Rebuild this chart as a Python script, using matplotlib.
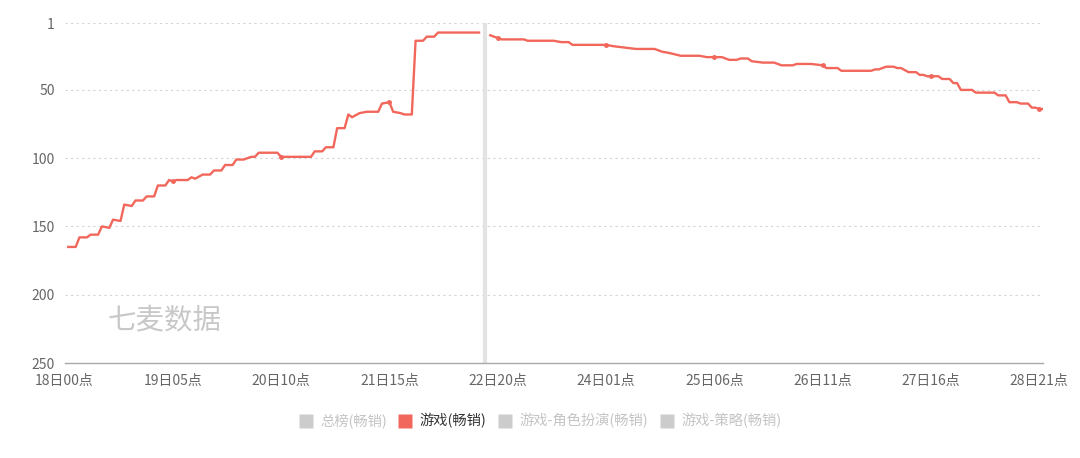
import matplotlib
matplotlib.use("Agg")
from matplotlib import pyplot as plt
from matplotlib.lines import Line2D
import numpy as np

plt.rcParams['font.family'] = ['Noto Sans CJK SC', 'DejaVu Sans']

# hours counted from 18日00点, rank values
hours_before = [1, 3, 4, 6, 7, 9, 10, 12, 13, 15, 16, 18, 19, 21, 22, 24, 25, 27,
                28, 29, 30, 33, 34, 35, 37, 39, 40, 42, 43, 45, 46, 48, 50, 51,
                52, 57, 58, 66, 67, 69, 70, 72, 73, 75, 76, 77, 79, 81, 84, 85,
                87, 88, 90, 91, 93, 94, 96, 97, 99, 100, 111]
rank_before = [165, 165, 158, 158, 156, 156, 150, 151, 145, 146, 134, 135, 131, 131,
               128, 128, 120, 120, 116, 117, 116, 116, 114, 115, 112, 112, 109, 109,
               105, 105, 101, 101, 99, 99, 96, 96, 99, 99, 95, 95, 92, 92, 78, 78,
               68, 70, 67, 66, 66, 60, 59, 66, 67, 68, 68, 14, 14, 11, 11, 8, 8]

hours_after = [114, 116, 117, 123, 124, 131, 133, 135, 136, 145, 147, 150, 153, 158,
               160, 162, 165, 170, 172, 174, 176, 178, 180, 181, 183, 184, 187, 190,
               192, 195, 196, 200, 203, 204, 207, 208, 210, 216, 217, 218, 220, 222,
               223, 224, 226, 228, 229, 230, 231, 232, 234, 235, 237, 238, 239, 240,
               243, 244, 249, 250, 252, 253, 255, 256, 258, 259, 260, 261, 262]
rank_after = [10, 12, 13, 13, 14, 14, 15, 15, 17, 17, 18, 19, 20, 20, 22, 23, 25, 25,
              26, 26, 26, 28, 28, 27, 27, 29, 30, 30, 32, 32, 31, 31, 32, 34, 34, 36,
              36, 36, 35, 35, 33, 33, 34, 34, 37, 37, 39, 39, 40, 40, 40, 42, 42, 45,
              45, 50, 50, 52, 52, 54, 54, 59, 59, 60, 60, 63, 63, 64, 64]

marker_hour = 112
tick_hours = [0, 29, 58, 87, 116, 145, 174, 203, 232, 261]
tick_labels = ['18日00点', '19日05点', '20日10点', '21日15点', '22日20点',
               '24日01点', '25日06点', '26日11点', '27日16点', '28日21点']
y_ticks = [1, 50, 100, 150, 200, 250]
legend_names = ['总榜(畅销)', '游戏(畅销)', '游戏-角色扮演(畅销)', '游戏-策略(畅销)']
legend_active = [False, True, False, False]

red = '#f2675c'
grey_text = '#666666'

fig = plt.figure(figsize=(10.8, 4.58), dpi=100)
ax = fig.add_axes([64.5 / 1080, 1 - 363 / 458, (1043 - 64.5) / 1080, 340 / 458])

ax.axvline(marker_hour + 0.5, color='#e3e3e3', lw=3, zorder=1)

for hs, rs in [(hours_before, rank_before), (hours_after, rank_after)]:
    hs = np.array(hs)
    idx = [i for i, h in enumerate(hs) if h % 29 == 0]
    ax.plot(hs, rs, color=red, lw=1.7, zorder=3,
            marker='o', markersize=2.5, markevery=idx, solid_joinstyle='round')

ax.set_xlim(0, 262)
ax.set_ylim(250, 1)
ax.set_yticks(y_ticks)
ax.set_yticklabels([str(v) for v in y_ticks])
ax.set_xticks(tick_hours)
ax.set_xticklabels(tick_labels)
ax.tick_params(axis='both', length=0, colors=grey_text, labelsize=10)
ax.tick_params(axis='y', pad=7)
ax.tick_params(axis='x', pad=8)

for v in y_ticks[:-1]:
    ax.axhline(v, color='#d4d4d4', lw=0.8, ls=(0, (2, 3)), zorder=0)

for s in ['top', 'right', 'left']:
    ax.spines[s].set_visible(False)
ax.spines['bottom'].set_color('#a8a8a8')
ax.spines['bottom'].set_linewidth(1)

ax.text(0.044, 0.126, '七麦数据', transform=ax.transAxes, fontsize=20.5,
        color='#c8c8c8', ha='left', va='center')

handles = []
for name, on in zip(legend_names, legend_active):
    handles.append(Line2D([], [], ls='none', marker='s', markersize=10,
                          markerfacecolor=red if on else '#cccccc',
                          markeredgecolor='none', label=name))
leg = fig.legend(handles=handles, loc='center', bbox_to_anchor=(0.5, 1 - 421 / 458),
                 ncol=4, frameon=False, fontsize=10.3, handlelength=1.0,
                 handletextpad=0.5, columnspacing=0.8)
for t, on in zip(leg.get_texts(), legend_active):
    t.set_color('#333333' if on else '#c4c4c4')

fig.savefig('out.png', dpi=100)
